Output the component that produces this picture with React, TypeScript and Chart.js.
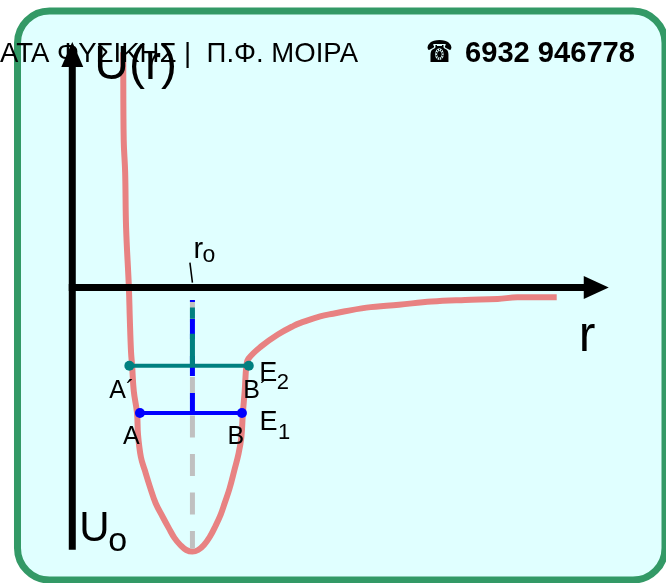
import React, { useEffect, useRef } from "react";
import { Chart, registerables } from "chart.js";

Chart.register(...registerables);

// Potential energy U(r): r in units of r0, U in units of |U0|
const curveR = [0.424, 0.428, 0.44, 0.448, 0.471, 0.479, 0.489, 0.498, 0.512, 0.539, 0.547, 0.571, 0.602, 0.645, 0.694, 0.752, 0.807, 0.85, 0.899, 0.949, 1.0, 1.047, 1.096, 1.145, 1.192, 1.236, 1.268, 1.309, 1.35, 1.383, 1.407, 1.42, 1.435, 1.449, 1.465, 1.572, 1.711, 1.842, 1.9, 2.063, 2.17, 2.449, 2.719, 2.99, 3.269, 3.54, 3.704, 4.032];
const curveU = [0.891, 0.56, 0.437, 0.225, 0.002, -0.121, -0.244, -0.296, -0.393, -0.475, -0.557, -0.642, -0.69, -0.753, -0.817, -0.868, -0.914, -0.948, -0.975, -0.994, -1.0, -0.994, -0.975, -0.944, -0.903, -0.859, -0.817, -0.761, -0.69, -0.631, -0.568, -0.475, -0.393, -0.296, -0.27, -0.223, -0.178, -0.145, -0.134, -0.109, -0.099, -0.076, -0.065, -0.053, -0.047, -0.043, -0.037, -0.037];

// Equilibrium distance and well depth
const R0 = 1;
const U0 = -1;

// Energy levels and their turning points
const levelE1 = -0.475;
const turningE1 = [0.563, 1.412]; // A, B
const levelE2 = -0.296;
const turningE2 = [0.475, 1.469]; // A', B'

// Vertical extents of the dashed guides at r0
const guideTop = -0.047;
const guideBottom = -0.988;
const guideTopE2 = -0.076;

// Axis extents
const axisRMax = 4.465;
const axisUMax = 0.93;
const axisUMin = -0.993;

const SANS = '"Liberation Sans", Arial, sans-serif';

function drawText(ctx: CanvasRenderingContext2D, text: string, x: number, y: number, font: string) {
  ctx.font = font;
  ctx.textAlign = "left";
  ctx.textBaseline = "alphabetic";
  ctx.fillText(text, x, y);
}

function drawFitted(ctx: CanvasRenderingContext2D, text: string, x: number, y: number, font: string, width: number) {
  ctx.save();
  ctx.font = font;
  ctx.textAlign = "left";
  ctx.textBaseline = "alphabetic";
  const w = ctx.measureText(text).width;
  ctx.translate(x, y);
  ctx.scale(width / w, 1);
  ctx.fillText(text, 0, 0);
  ctx.restore();
}

const decorPlugin = {
  id: "decor",
  beforeDraw(chart: any) {
    const { ctx, width, height } = chart;
    ctx.save();
    ctx.fillStyle = "#ffffff";
    ctx.fillRect(0, 0, width, height);
    ctx.beginPath();
    ctx.roundRect(17.5, 11, 647.5, 569, 32);
    ctx.fillStyle = "#e0ffff";
    ctx.fill();
    ctx.lineWidth = 7;
    ctx.strokeStyle = "#339966";
    ctx.stroke();
    ctx.restore();
  },
  afterDatasetsDraw(chart: any) {
    const { ctx } = chart;
    const sx = chart.scales.x;
    const sy = chart.scales.y;
    const px = (v: number) => sx.getPixelForValue(v);
    const py = (v: number) => sy.getPixelForValue(v);
    const x0 = px(0);
    const y0 = py(0);

    ctx.save();
    ctx.fillStyle = "#000";
    ctx.strokeStyle = "#000";
    ctx.lineCap = "butt";

    // vertical axis with arrow
    const topTip = py(axisUMax);
    ctx.lineWidth = 7;
    ctx.beginPath();
    ctx.moveTo(x0, py(axisUMin));
    ctx.lineTo(x0, topTip + 22);
    ctx.stroke();
    ctx.beginPath();
    ctx.moveTo(x0, topTip);
    ctx.lineTo(x0 - 11, topTip + 25);
    ctx.lineTo(x0 + 11, topTip + 25);
    ctx.closePath();
    ctx.fill();

    // horizontal axis with arrow
    const rightTip = px(axisRMax);
    ctx.beginPath();
    ctx.moveTo(x0 - 3.5, y0);
    ctx.lineTo(rightTip - 22, y0);
    ctx.stroke();
    ctx.beginPath();
    ctx.moveTo(rightTip, y0);
    ctx.lineTo(rightTip - 25, y0 - 11.5);
    ctx.lineTo(rightTip - 25, y0 + 11.5);
    ctx.closePath();
    ctx.fill();

    // r0 marker
    const xr0 = px(R0);
    ctx.lineWidth = 1.5;
    ctx.beginPath();
    ctx.moveTo(xr0 - 2.5, y0 - 25);
    ctx.lineTo(xr0, y0 - 5);
    ctx.stroke();
    drawText(ctx, "r", xr0 + 1, y0 - 30, `29px ${SANS}`);
    drawText(ctx, "o", xr0 + 10, y0 - 26, `23px ${SANS}`);

    // axis titles
    drawText(ctx, "U(r)", x0 + 22, py(axisUMax) + 37, `48px ${SANS}`);
    drawText(ctx, "r", rightTip - 30, y0 + 63, `50px ${SANS}`);
    const yU0 = py(U0);
    drawText(ctx, "U", x0 + 7, yU0 - 11, `42px ${SANS}`);
    drawText(ctx, "o", x0 + 36, yU0 - 1, `34px ${SANS}`);

    // turning point and level labels
    const f = `25px ${SANS}`;
    const yE2 = py(levelE2);
    const yE1 = py(levelE1);
    drawText(ctx, "A\u00b4", px(turningE2[0]) - 20, yE2 + 32, f);
    drawText(ctx, "B\u00b4", px(turningE2[1]) - 5.5, yE2 + 32, f);
    drawText(ctx, "E", px(turningE2[1]) + 10.5, yE2 + 15, `27px ${SANS}`);
    drawText(ctx, "2", px(turningE2[1]) + 28, yE2 + 23, `22px ${SANS}`);
    drawText(ctx, "A", px(turningE1[0]) - 17, yE1 + 31, f);
    drawText(ctx, "B", px(turningE1[1]) - 14.5, yE1 + 31, f);
    drawText(ctx, "E", px(turningE1[1]) + 17.5, yE1 + 17, `27px ${SANS}`);
    drawText(ctx, "1", px(turningE1[1]) + 36, yE1 + 26, `22px ${SANS}`);

    // header line
    drawFitted(ctx, "ΑΤΑ ΦΥΣΙΚΗΣ |  Π.Φ. ΜΟΙΡΑ", 0, 62, `28px ${SANS}`, 358);
    drawFitted(ctx, "\u260e", 426, 62, `30px "DejaVu Sans", sans-serif`, 27);
    drawFitted(ctx, "6932 946778", 465, 62, `bold 29px ${SANS}`, 170);

    ctx.restore();
  },
};

export default function App() {
  const canvasRef = useRef<HTMLCanvasElement | null>(null);

  useEffect(() => {
    const canvas = canvasRef.current;
    if (!canvas) return;

    const curve = curveR.map((r, i) => ({ x: r, y: curveU[i] }));

    const chart = new Chart(canvas, {
      type: "line",
      data: {
        datasets: [
          {
            label: "E2",
            data: turningE2.map((r) => ({ x: r, y: levelE2 })),
            borderColor: "#008080",
            backgroundColor: "#008080",
            borderWidth: 4,
            pointRadius: 5,
            pointBorderWidth: 0,
            pointBackgroundColor: "#008080",
            order: 1,
          },
          {
            label: "E1",
            data: turningE1.map((r) => ({ x: r, y: levelE1 })),
            borderColor: "#0000ff",
            backgroundColor: "#0000ff",
            borderWidth: 4,
            pointRadius: 5,
            pointBorderWidth: 0,
            pointBackgroundColor: "#0000ff",
            order: 2,
          },
          {
            label: "guide E2",
            data: [
              { x: R0, y: levelE2 },
              { x: R0, y: guideTopE2 },
            ],
            borderColor: "#008080",
            borderWidth: 5,
            borderDash: [32, 15],
            pointRadius: 0,
            order: 3,
          },
          {
            label: "guide E1",
            data: [
              { x: R0, y: levelE1 },
              { x: R0, y: guideTop },
            ],
            borderColor: "#0000ff",
            borderWidth: 5,
            borderDash: [20, 17],
            pointRadius: 0,
            order: 4,
          },
          {
            label: "r0",
            data: [
              { x: R0, y: guideTop },
              { x: R0, y: guideBottom },
            ],
            borderColor: "#c0c0c0",
            borderWidth: 5,
            borderDash: [22, 16.5],
            pointRadius: 0,
            order: 5,
          },
          {
            label: "U(r)",
            data: curve,
            borderColor: "#e88282",
            borderWidth: 6,
            pointRadius: 0,
            tension: 0.4,
            borderJoinStyle: "round",
            order: 6,
          },
        ],
      },
      options: {
        animation: false,
        responsive: false,
        devicePixelRatio: 1,
        layout: { padding: 0 },
        plugins: { legend: { display: false }, tooltip: { enabled: false } },
        events: [],
        scales: {
          x: { type: "linear", display: false, min: -0.56, max: 4.9 },
          y: { type: "linear", display: false, min: -1.1, max: 1.07 },
        },
      },
      plugins: [decorPlugin],
    } as any);

    return () => chart.destroy();
  }, []);

  return (
    <div style={{ position: "absolute", left: 0, top: 0, width: 666, height: 583 }}>
      <canvas ref={canvasRef} width={666} height={583} style={{ display: "block" }} />
    </div>
  );
}
